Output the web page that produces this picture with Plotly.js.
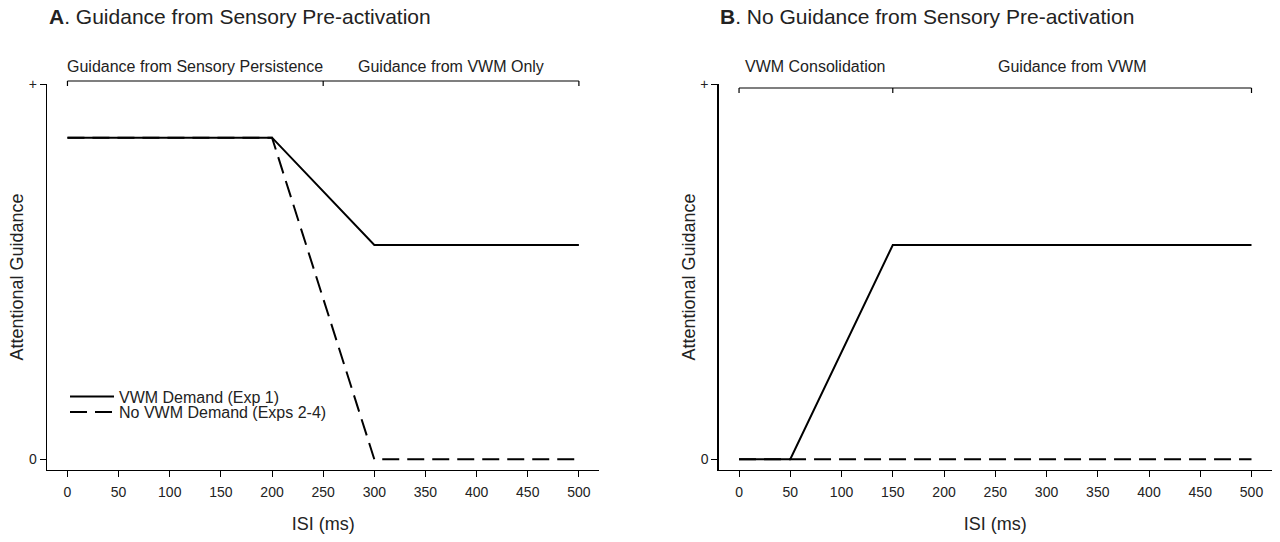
<!DOCTYPE html>
<html><head><meta charset="utf-8">
<script src="https://cdn.plot.ly/plotly-3.0.1.min.js"></script>
<style>html,body{margin:0;padding:0;background:#fff}#chart{width:1280px;height:542px}</style>
</head><body><div id="chart"></div>
<script>
// ---- data ----
const seriesNames = ['VWM Demand (Exp 1)', 'No VWM Demand (Exps 2-4)'];
const isiA = [0, 200, 300, 500];
const vwmDemandA = [0.857, 0.857, 0.571, 0.571];
const noVwmDemandA = [0.857, 0.857, 0, 0];
const isiB = [0, 50, 150, 500];
const vwmDemandB = [0, 0, 0.571, 0.571];
const isiBNoDemand = [0, 500];
const noVwmDemandB = [0, 0];
const xTickVals = [0, 50, 100, 150, 200, 250, 300, 350, 400, 450, 500];
const yTickVals = [0, 1];
const yTickText = ['0', '+'];
const phaseLabelsA = ['Guidance from Sensory Persistence', 'Guidance from VWM Only'];
const phaseBoundsA = [0, 250, 500];
const phaseLabelsB = ['VWM Consolidation', 'Guidance from VWM'];
const phaseBoundsB = [0, 150, 500];
const panelTitles = ['<b>A</b>. Guidance from Sensory Pre-activation', '<b>B</b>. No Guidance from Sensory Pre-activation'];
const xTitle = 'ISI (ms)';
const yTitle = 'Attentional Guidance';

// ---- styling ----
const FONT = 'Liberation Sans, Arial, Helvetica, sans-serif';
const TXT = '#222';
const solid = {color: '#000', width: 2, dash: 'solid'};
const dashed = {color: '#000', width: 2, dash: '17px,8px'};

const traces = [
  {x: isiA, y: vwmDemandA, name: seriesNames[0], mode: 'lines', line: solid, xaxis: 'x', yaxis: 'y', showlegend: true, legend: 'legend'},
  {x: isiA, y: noVwmDemandA, name: seriesNames[1], mode: 'lines', line: dashed, xaxis: 'x', yaxis: 'y', showlegend: true, legend: 'legend2'},
  {x: isiBNoDemand, y: noVwmDemandB, name: seriesNames[1], mode: 'lines', line: dashed, xaxis: 'x2', yaxis: 'y2', showlegend: false},
  {x: isiB, y: vwmDemandB, name: seriesNames[0], mode: 'lines', line: solid, xaxis: 'x2', yaxis: 'y2', showlegend: false}
];

function xAxis(domain, anchor) {
  return {
    domain: domain, anchor: anchor, range: [-20, 520], tickmode: 'array', tickvals: xTickVals,
    ticks: 'outside', ticklen: 6, tickwidth: 1, tickcolor: '#000', ticklabelstandoff: 3,
    showline: true, linecolor: '#000', linewidth: 1.3, showgrid: false, zeroline: false,
    tickfont: {size: 14, color: TXT, family: FONT},
    title: {text: xTitle, font: {size: 18, color: TXT, family: FONT}, standoff: 18},
    fixedrange: true
  };
}
function yAxis(anchor) {
  return {
    domain: [0, 1], anchor: anchor, range: [-0.0285, 1], tickmode: 'array', tickvals: yTickVals, ticktext: yTickText,
    ticks: 'outside', ticklen: 6, tickwidth: 1, tickcolor: '#000',
    showline: true, linecolor: '#000', linewidth: 1.3, showgrid: false, zeroline: false,
    tickfont: {size: 14, color: TXT, family: FONT},
    title: {text: yTitle, font: {size: 18, color: TXT, family: FONT}, standoff: 0},
    fixedrange: true
  };
}

function brackets(bounds, xref, yLine, yTick) {
  const s = [];
  s.push({type: 'line', xref: xref, yref: 'paper', x0: bounds[0], x1: bounds[bounds.length - 1], y0: yLine, y1: yLine, line: {color: '#000', width: 1.2}});
  bounds.forEach(b => s.push({type: 'line', xref: xref, yref: 'paper', x0: b, x1: b, y0: yLine, y1: yTick, line: {color: '#000', width: 1.2}}));
  return s;
}
function phaseLabels(labels, bounds, xref, y) {
  return labels.map((t, i) => ({
    text: t, xref: xref, yref: 'paper', x: (bounds[i] + bounds[i + 1]) / 2, y: y,
    xanchor: 'center', yanchor: 'middle', showarrow: false,
    font: {size: 16, color: TXT, family: FONT}
  }));
}
const legendBase = {x: 0.0147, xanchor: 'left', yanchor: 'middle', bgcolor: 'rgba(0,0,0,0)',
  font: {size: 16, color: TXT, family: FONT}, itemwidth: 44, borderwidth: 0};

const layout = {
  width: 1280, height: 542,
  margin: {l: 47, r: 8, t: 84, b: 72},
  paper_bgcolor: '#fff', plot_bgcolor: '#fff',
  font: {family: FONT, color: TXT, size: 14},
  showlegend: true,
  legend: Object.assign({}, legendBase, {y: 0.1904}),
  legend2: Object.assign({}, legendBase, {y: 0.1503}),
  xaxis: xAxis([0, 0.4509], 'y'),
  yaxis: yAxis('x'),
  xaxis2: xAxis([0.5482, 1], 'y2'),
  yaxis2: yAxis('x2'),
  shapes: [].concat(
    brackets(phaseBoundsA, 'x', 1.0078, 0.9948),
    brackets(phaseBoundsB, 'x2', 0.9896, 0.9767)
  ),
  annotations: [].concat(
    phaseLabels(phaseLabelsA, phaseBoundsA, 'x', 1.0466),
    phaseLabels(phaseLabelsB, phaseBoundsB, 'x2', 1.0466),
    [
      {text: panelTitles[0], xref: 'paper', yref: 'paper', x: 0.0, y: 1.1736, xanchor: 'left', yanchor: 'middle', showarrow: false, font: {size: 21, color: TXT, family: FONT}},
      {text: panelTitles[1], xref: 'paper', yref: 'paper', x: 0.5475, y: 1.1736, xanchor: 'left', yanchor: 'middle', showarrow: false, font: {size: 21, color: TXT, family: FONT}}
    ]
  )
};

Plotly.newPlot('chart', traces, layout, {displayModeBar: false, staticPlot: true});
</script>
</body></html>
